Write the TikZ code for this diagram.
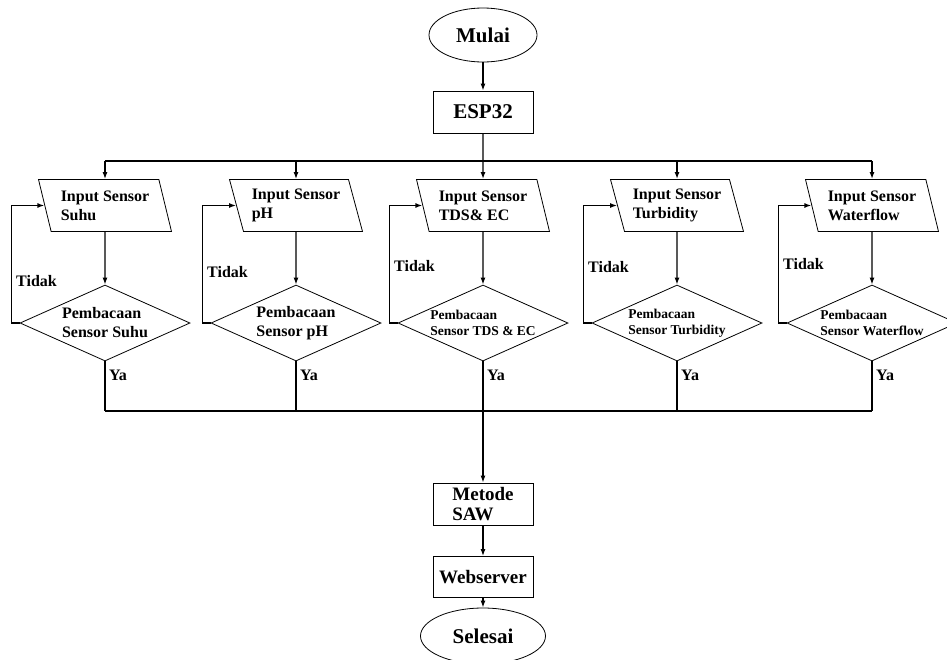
\documentclass[tikz,border=0pt]{standalone}
\usepackage{fontspec}
\setmainfont{Liberation Serif}
\usetikzlibrary{shapes.geometric,arrows.meta}

\tikzset{
	term/.style={ellipse, draw, line width=0.8pt, minimum width=108pt, minimum height=54pt, inner sep=0pt, font=\fontsize{21}{24}\selectfont\bfseries},
	proc/.style={rectangle, draw, line width=0.8pt, minimum width=100pt, minimum height=42pt, inner sep=2pt, align=left, font=\fontsize{19}{20}\selectfont\bfseries},
	io/.style={trapezium, trapezium left angle=113, trapezium right angle=67, trapezium stretches body, draw, line width=0.8pt, minimum width=133pt, minimum height=52pt, inner sep=0pt, align=left, font=\fontsize{16}{19}\selectfont\bfseries},
	cond/.style={diamond, draw, line width=0.8pt, aspect=2.25, minimum width=170pt, minimum height=76pt, inner sep=0pt, align=left},
	lbl/.style={anchor=west, inner sep=0pt, font=\fontsize{16}{19}\selectfont\bfseries},
	flow/.style={line width=1.4pt},
}

\begin{document}
\begin{tikzpicture}[x=1pt, y=-1pt, >={Latex[length=7pt,width=5pt]}]
	\useasboundingbox (0,0) rectangle (947,659);
	\node[term] (start) at (483,35) {Mulai};
	\node[proc, font=\fontsize{21}{24}\selectfont\bfseries] (esp) at (483,112) {ESP32};
	\node[proc] (saw) at (483,504) {Metode\\SAW};
	\node[proc, minimum height=41pt] (web) at (483,577) {Webserver};
	\node[term, minimum width=125pt, minimum height=56pt] (stop) at (483,636) {Selesai};
	\coordinate (tb) at (0,161);
	\coordinate (bb) at (0,411);
	\foreach \x/\n/\a/\b/\fs/\bs/\ty in {105/1/Suhu/Sensor Suhu/16/19/281, 296/2/pH/Sensor pH/16/19/272, 483/3/TDS\& EC/Sensor TDS \& EC/13.5/16/266, 677/4/Turbidity/Sensor Turbidity/13.5/16/267, 872/5/Waterflow/Sensor Waterflow/13.5/16/264}{
			\node[io] (in\n) at (\x,205.5) {Input Sensor\\\a};
			\node[cond, font=\fontsize{\fs}{\bs}\selectfont\bfseries] (rd\n) at (\x,323) {Pembacaan\\\b};
			\draw[flow, ->] (in\n) -- (rd\n);
			\draw[flow, ->] (rd\n.west) -- ++(-8,0) |- (in\n.west);
			\node[lbl] (no\n) at (\x-89,\ty) {Tidak};
			\node[lbl] (yes\n) at (\x+4,375) {Ya};
			\draw[flow] (rd\n.south) -- (rd\n.south |- bb);
		}
	\foreach \n in {1,2,4,5}{
			\draw[flow, ->] (in\n.north |- tb) -- (in\n.north);
		}
	\draw[flow] (in1.north |- tb) -- (in5.north |- tb);
	\draw[flow] (rd1.south |- bb) -- (rd5.south |- bb);
	\draw[flow, ->] (start) -- (esp);
	\draw[flow, ->] (esp) -- (in3);
	\draw[flow, ->] (rd3) -- (saw);
	\draw[flow, ->] (saw) -- (web);
	\draw[flow, ->] (web) -- (stop);
\end{tikzpicture}
\end{document}
